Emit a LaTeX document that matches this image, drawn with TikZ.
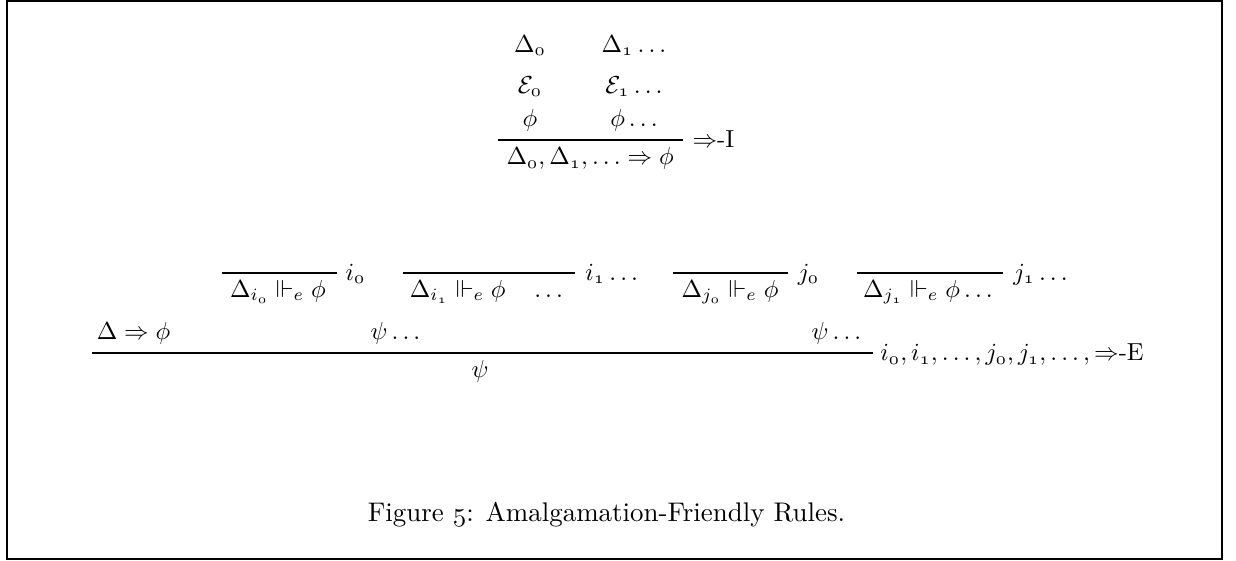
\documentclass[tikz,border=0pt,10pt]{standalone}
\usepackage{amsmath,amssymb}
\usetikzlibrary{positioning}
\newcommand{\os}[1]{\mathnormal{#1}}

\begin{document}
\begin{tikzpicture}[
        fml/.style={anchor=base, inner sep=0pt},
        lbl/.style={anchor=base west, inner sep=0pt},
        infline/.style={line width=0.45pt},
        frame/.style={line width=0.8pt}
    ]
        \useasboundingbox (0,0) rectangle (17.657,-8);
        \draw[frame] (0.1,-0.02) rectangle (17.457,-7.986);

        % introduction rule
        \node[fml] (d0) at (7.571,-0.743) {$\Delta_{\os{0}}$};
        \node[fml] (d1) at (9.057,-0.743) {$\Delta_{\os{1}}\ldots$};
        \node[fml] (e0) at (7.571,-1.330) {$\mathcal{E}_{\os{0}}$};
        \node[fml] (e1) at (9.057,-1.330) {$\mathcal{E}_{\os{1}}\ldots$};
        \node[fml] (f0) at (7.571,-1.810) {$\phi$};
        \node[fml] (f1) at (9.057,-1.810) {$\phi\ldots$};
        \coordinate (ia) at (7.114,-2.0);
        \coordinate (ib) at (9.757,-2.0);
        \draw[infline] (ia) -- (ib);
        \node[fml] (iconc) at (8.43,-2.357) {$\Delta_{\os{0}},\Delta_{\os{1}},\ldots\Rightarrow\phi$};
        \node[lbl] (ilbl) at (9.886,-2.114) {$\Rightarrow$-I};

        % elimination rule: assumptions
        \coordinate (a1) at (3.171,-3.9);  \coordinate (b1) at (4.814,-3.9);
        \coordinate (a2) at (5.757,-3.9);  \coordinate (b2) at (8.214,-3.9);
        \coordinate (a3) at (9.614,-3.9);  \coordinate (b3) at (11.257,-3.9);
        \coordinate (a4) at (12.243,-3.9); \coordinate (b4) at (14.329,-3.9);
        \draw[infline] (a1) -- (b1);
        \draw[infline] (a2) -- (b2);
        \draw[infline] (a3) -- (b3);
        \draw[infline] (a4) -- (b4);
        \node[fml] (h1) at (3.971,-4.243) {$\Delta_{i_{\os{0}}}\Vdash_e\phi$};
        \node[fml] (h2) at (6.95,-4.243) {$\Delta_{i_{\os{1}}}\Vdash_e\phi\quad\ldots$};
        \node[fml] (h3) at (10.43,-4.243) {$\Delta_{j_{\os{0}}}\Vdash_e\phi$};
        \node[fml] (h4) at (13.257,-4.243) {$\Delta_{j_{\os{1}}}\Vdash_e\phi\ldots$};
        \node[lbl] (k1) at (4.929,-4.0) {$i_{\os{0}}$};
        \node[lbl] (k2) at (8.357,-4.0) {$i_{\os{1}}\ldots$};
        \node[lbl] (k3) at (11.39,-4.0) {$j_{\os{0}}$};
        \node[lbl] (k4) at (14.471,-4.0) {$j_{\os{1}}\ldots$};

        % elimination rule: main step
        \node[fml] (maj) at (1.907,-4.857) {$\Delta\Rightarrow\phi$};
        \node[fml] (s1) at (5.65,-4.857) {$\psi\ldots$};
        \node[fml] (s2) at (11.95,-4.857) {$\psi\ldots$};
        \coordinate (ea) at (1.314,-5.043);
        \coordinate (eb) at (12.471,-5.043);
        \draw[infline] (ea) -- (eb);
        \node[fml] (econc) at (6.857,-5.386) {$\psi$};
        \node[lbl] (elbl) at (12.571,-5.157) {$i_{\os{0}},i_{\os{1}},\ldots,j_{\os{0}},j_{\os{1}},\ldots,\Rightarrow$-E};

        \node[fml, font=\fontsize{10.95}{13.6}\selectfont] (cap) at (8.664,-7.452) {Figure $\os{5}$: Amalgamation-Friendly Rules.};
    \end{tikzpicture}
\end{document}
